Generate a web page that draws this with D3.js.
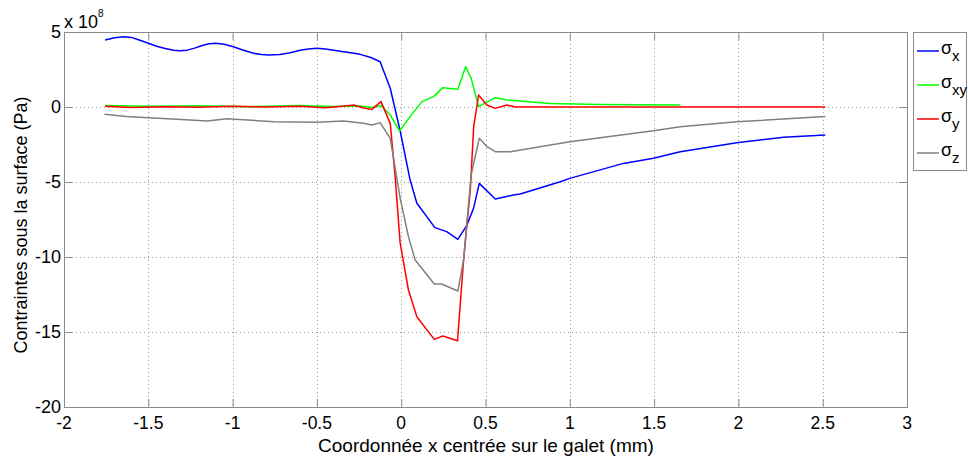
<!DOCTYPE html>
<html>
<head>
<meta charset="utf-8">
<script src="https://cdn.jsdelivr.net/npm/d3@7"></script>
<style>
  body { margin: 0; background: #fff; }
  svg { display: block; font-family: "Liberation Sans", Arial, sans-serif; }
</style>
</head>
<body>
<svg id="chart" width="968" height="457"></svg>
<script>
// values in units of 1e8 Pa, x in mm
var sxX = [-1.756,-1.70,-1.647,-1.60,-1.55,-1.499,-1.45,-1.40,-1.35,-1.31,-1.27,-1.23,-1.18,-1.14,-1.10,-1.05,-0.995,-0.94,-0.876,-0.83,-0.787,-0.72,-0.658,-0.6,-0.55,-0.5,-0.45,-0.4,-0.342,-0.29,-0.243,-0.18,-0.125,-0.065,-0.006,0.053,0.093,0.2,0.27,0.336,0.39,0.429,0.463,0.558,0.666,0.706,0.943,1.0,1.318,1.496,1.655,1.99,2.268,2.515];
var sxY = [4.47,4.62,4.69,4.64,4.45,4.25,4.05,3.9,3.78,3.75,3.79,3.91,4.1,4.22,4.25,4.18,4.02,3.8,3.58,3.5,3.47,3.5,3.62,3.78,3.87,3.91,3.86,3.79,3.69,3.6,3.51,3.3,3.02,1.25,-1.6,-4.87,-6.42,-8.04,-8.31,-8.82,-7.87,-6.76,-5.09,-6.13,-5.87,-5.8,-4.98,-4.76,-3.76,-3.42,-2.98,-2.38,-2.02,-1.87];

var sxyX = [-1.756,-1.5,-1.2,-0.9,-0.6,-0.4,-0.243,-0.174,-0.12,-0.065,-0.01,0.053,0.123,0.192,0.247,0.336,0.382,0.415,0.459,0.558,0.627,0.884,1.18,1.655];
var sxyY = [0.1,0.05,0.08,0.02,0.1,0.03,0.07,-0.04,0.1,-0.53,-1.6,-0.64,0.36,0.69,1.29,1.18,2.69,1.91,0.02,0.62,0.47,0.24,0.16,0.13];

var syX = [-1.756,-1.6,-1.4,-1.2,-1.0,-0.8,-0.6,-0.45,-0.35,-0.28,-0.23,-0.174,-0.12,-0.065,-0.036,-0.006,0.043,0.093,0.196,0.247,0.334,0.37,0.41,0.43,0.459,0.508,0.558,0.627,0.68,1.0,2.515];
var syY = [0.05,-0.03,0.02,-0.02,0.05,0.0,0.05,-0.05,0.05,0.13,-0.05,-0.16,0.36,-1.09,-4.64,-9.09,-12.2,-13.98,-15.49,-15.27,-15.58,-10.2,-5.5,-1.31,0.8,0.13,-0.09,0.13,0.0,0.0,0.0];

var szX = [-1.76,-1.63,-1.5,-1.33,-1.15,-1.034,-0.757,-0.5,-0.342,-0.224,-0.174,-0.125,-0.065,-0.006,0.043,0.083,0.196,0.24,0.336,0.37,0.415,0.463,0.508,0.558,0.647,1.0,1.496,1.655,1.99,2.515];
var szY = [-0.49,-0.64,-0.71,-0.82,-0.93,-0.78,-0.98,-1.02,-0.93,-1.09,-1.2,-1.04,-2.09,-6.07,-8.64,-10.2,-11.8,-11.8,-12.27,-10.2,-4.5,-2.09,-2.64,-2.98,-2.98,-2.31,-1.58,-1.31,-0.98,-0.64];

var seriesNames = ["x", "xy", "y", "z"];
var seriesColors = ["#0000ff", "#00ff00", "#ff0000", "#808080"];
var xTicks = [-2,-1.5,-1,-0.5,0,0.5,1,1.5,2,2.5,3];
var yTicks = [5,0,-5,-10,-15,-20];

var series = [[sxX, sxY], [sxyX, sxyY], [syX, syY], [szX, szY]];

var svg = d3.select("#chart");
var x = d3.scaleLinear().domain([-2, 3]).range([64, 907]);
var y = d3.scaleLinear().domain([-20, 5]).range([407, 32]);
var axisColor = "#8a8a8a";

// grid
var grid = svg.append("g");
grid.selectAll(".gx").data(xTicks.slice(1, -1)).enter().append("line")
  .attr("x1", function(d) { return Math.round(x(d)) + 0.5; })
  .attr("x2", function(d) { return Math.round(x(d)) + 0.5; })
  .attr("y1", y(5)).attr("y2", y(-20))
  .attr("stroke", "#9a9a9a").attr("stroke-dasharray", "1,3");
grid.selectAll(".gy").data(yTicks.slice(1, -1)).enter().append("line")
  .attr("y1", function(d) { return Math.round(y(d)) + 0.5; })
  .attr("y2", function(d) { return Math.round(y(d)) + 0.5; })
  .attr("x1", x(-2)).attr("x2", x(3))
  .attr("stroke", "#9a9a9a").attr("stroke-dasharray", "1,3");

// lines
var line = d3.line();
series.forEach(function(s, i) {
  var pts = s[0].map(function(v, j) { return [x(v), y(s[1][j])]; });
  svg.append("path")
    .attr("d", line(pts))
    .attr("fill", "none")
    .attr("stroke", seriesColors[i])
    .attr("stroke-width", 1.5)
    .attr("stroke-linejoin", "round");
});

// axes box
svg.append("rect")
  .attr("x", 64.5).attr("y", 32.5).attr("width", 843).attr("height", 375)
  .attr("fill", "none").attr("stroke", axisColor);

// inner ticks
var xAxisB = d3.axisBottom(x).tickValues(xTicks).tickSize(-8).tickFormat("");
var xAxisT = d3.axisTop(x).tickValues(xTicks).tickSize(-8).tickFormat("");
var yAxisL = d3.axisLeft(y).tickValues(yTicks).tickSize(-8).tickFormat("");
var yAxisR = d3.axisRight(y).tickValues(yTicks).tickSize(-8).tickFormat("");
[[xAxisB, "translate(0,407)"], [xAxisT, "translate(0,32)"], [yAxisL, "translate(64,0)"], [yAxisR, "translate(907,0)"]].forEach(function(a) {
  var g = svg.append("g").attr("transform", a[1]).call(a[0]);
  g.select(".domain").remove();
  g.selectAll("line").attr("stroke", axisColor);
});

// tick labels
svg.selectAll(".xl").data(xTicks).enter().append("text")
  .attr("x", function(d) { return x(d); }).attr("y", 429)
  .attr("text-anchor", "middle").attr("font-size", 17.5)
  .text(function(d) { return d; });
svg.selectAll(".yl").data(yTicks).enter().append("text")
  .attr("x", 61).attr("y", function(d) { return y(d) + 6; })
  .attr("text-anchor", "end").attr("font-size", 18)
  .text(function(d) { return d; });

// exponent
var ex = svg.append("text").attr("x", 64).attr("y", 28).attr("font-size", 18);
ex.append("tspan").text("x 10");
ex.append("tspan").attr("dy", -11).attr("font-size", 10).text("8");

// axis labels
svg.append("text").attr("x", 486).attr("y", 452)
  .attr("text-anchor", "middle").attr("font-size", 19)
  .text("Coordonnée x centrée sur le galet (mm)");
svg.append("text")
  .attr("transform", "translate(27,225) rotate(-90)")
  .attr("text-anchor", "middle").attr("font-size", 18)
  .text("Contraintes sous la surface (Pa)");

// legend
var lg = svg.append("g");
lg.append("rect").attr("x", 913.5).attr("y", 32.5).attr("width", 53).attr("height", 138)
  .attr("fill", "#fff").attr("stroke", axisColor);
seriesNames.forEach(function(n, i) {
  var ly = 51 + i * 34;
  lg.append("line").attr("x1", 917).attr("x2", 939).attr("y1", ly).attr("y2", ly)
    .attr("stroke", seriesColors[i]).attr("stroke-width", 1.5);
  var t = lg.append("text").attr("x", 941).attr("y", ly + 3).attr("font-size", 18);
  t.append("tspan").text("σ");
  t.append("tspan").attr("dy", 7).attr("font-size", 15).text(n);
});
</script>
</body>
</html>
